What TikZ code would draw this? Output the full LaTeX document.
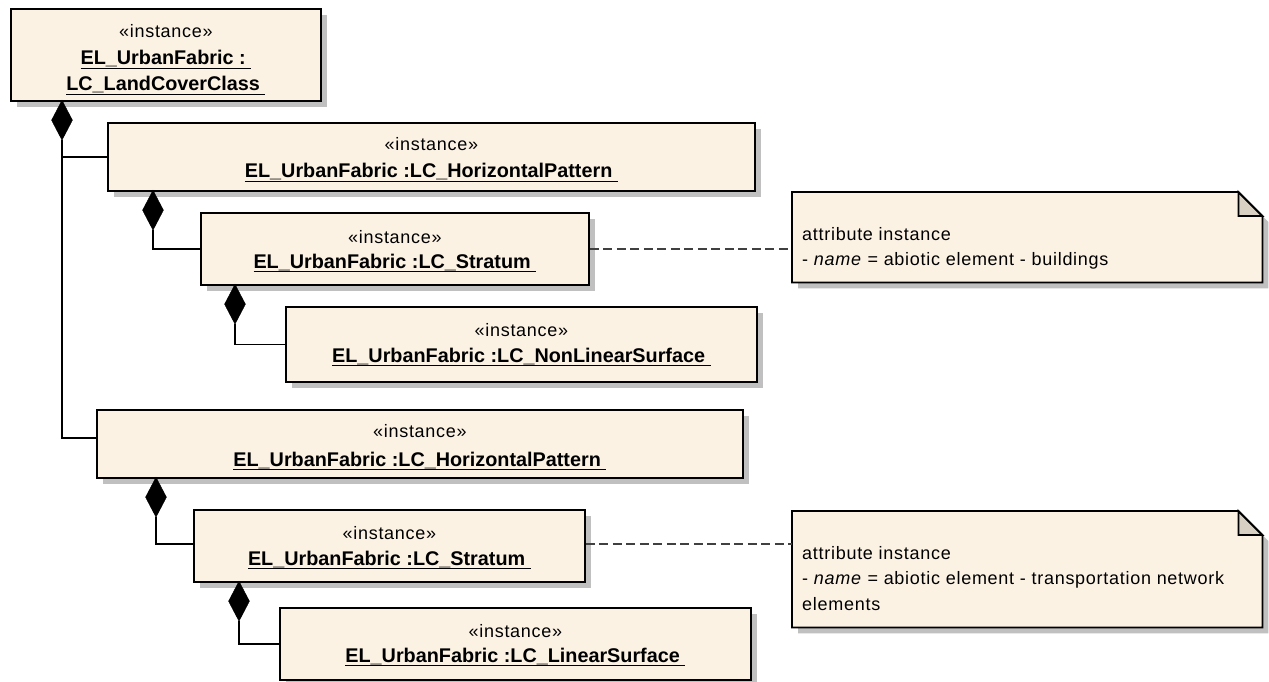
\documentclass[tikz,border=0pt]{standalone}
\usepackage{fontspec}
\setmainfont{Liberation Sans}
\newfontfamily\stfont{Liberation Sans}[LetterSpace=4]
\usetikzlibrary{shapes.geometric,shadows,calc}
\definecolor{boxfill}{RGB}{251,242,228}
\definecolor{shadowgray}{RGB}{192,192,192}
\definecolor{foldfill}{RGB}{216,208,194}
\newsavebox\ulsave
\newcommand\ulbox[1]{\sbox\ulsave{#1}\rlap{\rule[-4.2pt]{\wd\ulsave}{1.3pt}}\usebox\ulsave}
\tikzset{
  ibox/.style={rectangle, draw=black, line width=1.8pt, fill=boxfill, inner sep=0pt, anchor=north west,
    drop shadow={shadow xshift=6pt, shadow yshift=-6pt, fill=shadowgray, opacity=1}},
  stereo/.style={anchor=base, inner sep=0pt, font=\stfont\fontsize{18}{22}\selectfont},
  iname/.style={anchor=base, inner sep=0pt, font=\bfseries\fontsize{19.8}{24}\selectfont},
  dia/.style={diamond, fill=black, draw=black, line width=0.4pt, inner sep=0pt, minimum width=21pt, minimum height=40pt, anchor=north},
  conn/.style={line width=1.5pt, draw=black},
  dashconn/.style={line width=1.2pt, draw=black!75, dash pattern=on 9pt off 4.5pt},
  notebox/.style={rectangle, draw=none, fill=none, inner sep=0pt, anchor=north west},
  notetext/.style={anchor=north west, inner sep=0pt, align=left, font=\stfont\fontsize{18}{25.5}\selectfont},
  noteline/.style={draw=black, line width=1.8pt, line join=miter}
}
\newcommand\instbox[8]{%
  \node[ibox, minimum width=#4pt, minimum height=#5pt] (#1) at (#2,#3) {};
  \node[stereo] (#1s) at ([shift={(0,#6)}]#1.north) {«instance»};
  \node[iname] (#1n) at ([shift={(0,#7)}]#1.north) {\ulbox{#8\ }};
}
\newcommand\notedraw[1]{%
  \fill[shadowgray] ([shift={(6,6)}]#1.north west) -- ([shift={(-18,6)}]#1.north east) -- ([shift={(6,30)}]#1.north east) -- ([shift={(6,6)}]#1.south east) -- ([shift={(6,6)}]#1.south west) -- cycle;
  \fill[boxfill] (#1.north west) -- ([shift={(-24,0)}]#1.north east) -- ([shift={(0,24)}]#1.north east) -- (#1.south east) -- (#1.south west) -- cycle;
  \filldraw[foldfill, noteline] ([shift={(-24,0)}]#1.north east) -- ([shift={(-24,24)}]#1.north east) -- ([shift={(0,24)}]#1.north east) -- cycle;
  \draw[noteline] (#1.north west) -- ([shift={(-24,0)}]#1.north east) -- ([shift={(0,24)}]#1.north east) -- (#1.south east) -- (#1.south west) -- cycle;
}
\begin{document}
\begin{tikzpicture}[x=1pt,y=-1pt]
\useasboundingbox (0,0) rectangle (1269,682);
\fill[white] (0,0) rectangle (1269,682);

% top box (three lines)
\node[ibox, minimum width=310pt, minimum height=92pt] (lcc) at (10,8) {};
\node[stereo] (lccs) at ([shift={(0,30)}]lcc.north) {«instance»};
\node[iname] (lccn1) at ([shift={(0,57)}]lcc.north) {\ulbox{EL\_UrbanFabric :\ }};
\node[iname] (lccn2) at ([shift={(0,83)}]lcc.north) {\ulbox{LC\_LandCoverClass\ }};

\instbox{hpa}{107}{122}{647}{68}{28}{56}{EL\_UrbanFabric :LC\_HorizontalPattern}
\instbox{sta}{200}{212}{388}{72}{31}{56}{EL\_UrbanFabric :LC\_Stratum}
\instbox{nls}{285}{306}{471}{75}{30}{56}{EL\_UrbanFabric :LC\_NonLinearSurface}
\instbox{hpb}{96}{409}{646}{68}{28}{57}{EL\_UrbanFabric :LC\_HorizontalPattern}
\instbox{stb}{193}{509}{391}{72}{30}{56}{EL\_UrbanFabric :LC\_Stratum}
\instbox{lsf}{279}{607}{471}{72}{30}{55}{EL\_UrbanFabric :LC\_LinearSurface}

% notes
\node[notebox, minimum width=470pt, minimum height=90pt] (noa) at (792,192) {};
\notedraw{noa}
\node[notetext] (noat) at ([shift={(10,35)}]noa.north west) {attribute instance\\- \textit{name} = abiotic element - buildings};
\node[notebox, minimum width=470pt, minimum height=116pt] (nob) at (792,511) {};
\notedraw{nob}
\node[notetext] (nobt) at ([shift={(10,35)}]nob.north west) {attribute instance\\- \textit{name} = abiotic element - transportation network\\elements};

% composition diamonds
\node[dia] (d1) at (62,100) {};
\node[dia] (d2) at (153,190) {};
\node[dia] (d3) at (235,284) {};
\node[dia] (d4) at (156,477) {};
\node[dia] (d5) at (239,581) {};

% connectors
\draw[conn] (d1.south) |- (hpa.west);
\draw[conn] (d1.south) |- ([shift={(0,-6)}]hpb.west);
\draw[conn] (d2.south) |- (sta.west);
\draw[conn] (d3.south) |- (nls.west);
\draw[conn] (d4.south) |- ([shift={(0,-2)}]stb.west);
\draw[conn] (d5.south) |- (lsf.west);

% note links
\draw[dashconn] (sta.east) -- (sta.east -| noa.west);
\draw[dashconn] ([shift={(0,-2)}]stb.east) -- ([shift={(0,-2)}]stb.east -| nob.west);
\end{tikzpicture}
\end{document}
